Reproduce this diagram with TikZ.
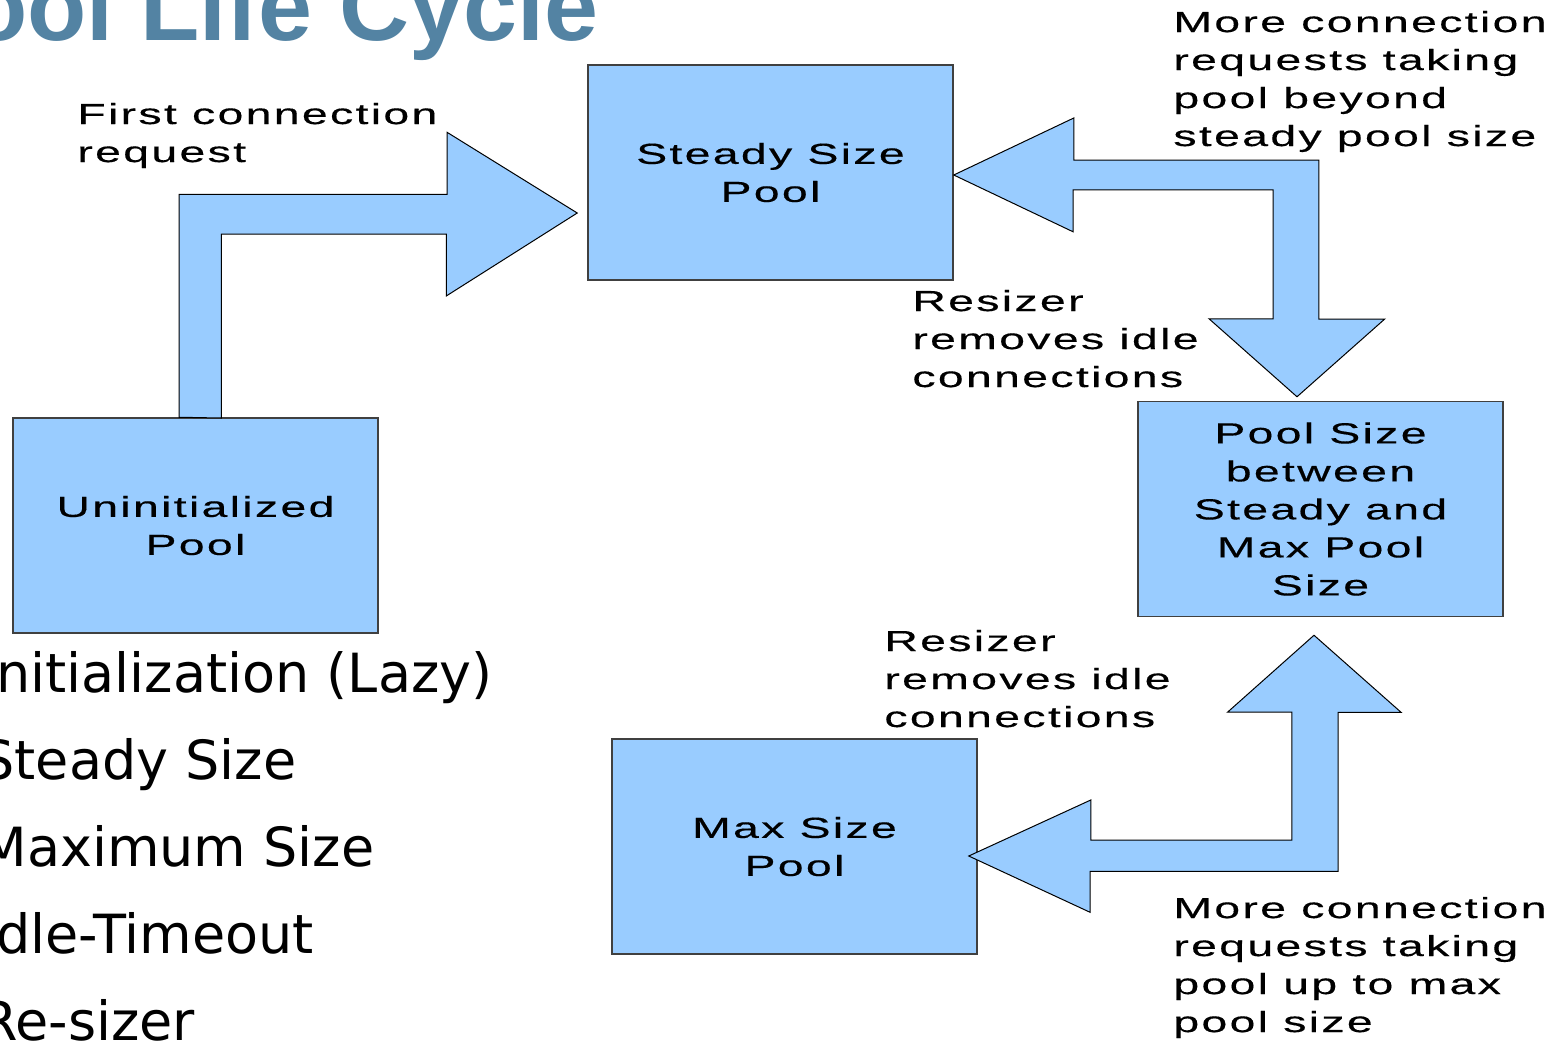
\documentclass[tikz,border=0pt]{standalone}
\usepackage{fontspec}
\setmainfont{Liberation Sans}
\newfontfamily\diafont[FakeStretch=1.6,LetterSpace=8,FakeBold=0.4]{Liberation Sans}
\newfontfamily\listfont{DejaVu Sans}
\usetikzlibrary{calc}
\definecolor{poolblue}{HTML}{99CCFF}
\definecolor{titleblue}{HTML}{5383A3}
\tikzset{
    BOX/.style ={rectangle,minimum width=182.5pt,minimum height=107.5pt,draw=black!75,line width=0.75pt,fill=poolblue,align=center,inner sep=0pt,font=\diafont\fontsize{14.5}{19}\selectfont},
    BA/.style ={draw=black,line width=0.5pt,fill=poolblue,line join=miter},
    LB/.style ={anchor=base west,align=left,inner sep=0pt,font=\diafont\fontsize{14.5}{19}\selectfont},
    BL/.style ={anchor=base west,align=left,inner sep=0pt,font=\listfont\fontsize{27}{43.5}\selectfont}}

\begin{document}
\begin{tikzpicture}[x=0.5pt,y=-0.5pt]
    \useasboundingbox (0,0) rectangle (1565,1040);
    \node[anchor=base west,inner sep=0pt,text=titleblue,font=\bfseries\fontsize{48.5}{52}\selectfont] (T) at (-97,40) {Pool Life Cycle};
    \node[BOX] (S) at (770.5,172.5) {Steady Size\\Pool};
    \node[BOX] (U) at (195.5,525.5) {Uninitialized\\Pool};
    \node[BOX] (B) at (1320.5,509) {Pool Size\\between\\Steady and\\Max Pool\\Size};
    \node[BOX] (M) at (794.5,846.5) {Max Size\\Pool};
    \draw[BA] (U.north) ++(-16.5,0) -- ++(0,-223) -- ++(268,0) -- ++(0,-62) -- ($(S.west)+(-10,40.5)$) -- ++(-131,83) -- ++(0,-62) -- ++(-225,0) -- ++(0,184) -- cycle;
    \draw[BA] ($(S.east)+(0,2.5)$) -- ++(120,-57) -- ++(0,42) -- ++(245,0) -- ++(0,159) -- ++(66,0) -- ($(B.north)+(-23.5,-4)$) -- ++(-88,-78) -- ++(64,0) -- ++(0,-129) -- ++(-200,0) -- ++(0,42) -- cycle;
    \draw[BA] ($(B.south)+(-6.5,18)$) -- ++(87,77) -- ++(-63,0) -- ++(0,159) -- ++(-248,0) -- ++(0,41) -- ($(M.east)+(-9,9.5)$) -- ++(122,-56) -- ++(0,40) -- ++(201,0) -- ++(0,-128) -- ++(-64,0) -- cycle;
    % base anchor sits on the last line
    \node[LB] (L1) at (77,162) {First connection\\request};
    \node[LB] (L2) at (1173,146) {More connection\\requests taking\\pool beyond\\steady pool size};
    \node[LB] (L3) at (912,387) {Resizer\\removes idle\\connections};
    \node[LB] (L4) at (884,727) {Resizer\\removes idle\\connections};
    \node[LB] (L5) at (1173,1032) {More connection\\requests taking\\pool up to max\\pool size};
    \node[BL] (P) at (-20,1040) {Initialization (Lazy)\\Steady Size\\Maximum Size\\Idle-Timeout\\Re-sizer};
\end{tikzpicture}
\end{document}
